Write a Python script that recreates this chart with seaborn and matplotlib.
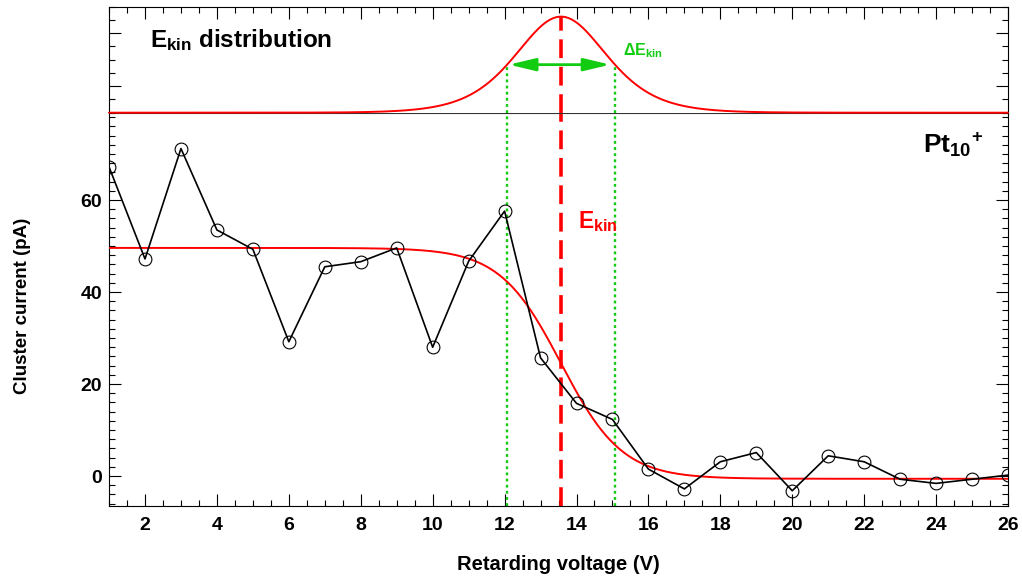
import numpy as np
import matplotlib
matplotlib.use("Agg")
import matplotlib.pyplot as plt
from matplotlib.ticker import MultipleLocator, FixedLocator, NullFormatter
import seaborn as sns

# measured cluster current vs retarding voltage
voltage = list(range(1, 27))
current = [67.2, 47.2, 71.2, 53.5, 49.3, 29.2, 45.5, 46.6, 49.6, 28.0,
           46.7, 57.6, 25.7, 15.8, 12.3, 1.5, -2.8, 3.1, 5.1, -3.2,
           4.4, 3.1, -0.7, -1.6, -0.7, 0.2]

# Fermi-type fit parameters
e_kin = 13.57      # V, centre of the fit
width = 0.851      # V
plateau = 50.2     # pA
offset = -0.6      # pA
peak_au = 7.25     # height of the distribution (arb. units)

xticks = [2, 4, 6, 8, 10, 12, 14, 16, 18, 20, 22, 24, 26]
yticks = [0, 20, 40, 60]

RED = "#ff0000"
GREEN = "#11cc11"

sns.set_style("ticks")
plt.rcParams["font.family"] = ["Liberation Sans", "DejaVu Sans"]
plt.rcParams["font.weight"] = "bold"
plt.rcParams["text.color"] = "black"
plt.rcParams["axes.labelcolor"] = "black"
plt.rcParams["xtick.color"] = "black"
plt.rcParams["ytick.color"] = "black"
plt.rcParams["mathtext.fontset"] = "custom"
plt.rcParams["mathtext.rm"] = "Liberation Sans:bold"
plt.rcParams["mathtext.bf"] = "Liberation Sans:bold"
plt.rcParams["mathtext.it"] = "Liberation Sans:bold"

fig = plt.figure(figsize=(10.22, 5.86), dpi=100)
ax = fig.add_axes([0.1067, 0.1365, 0.8796, 0.6712])
ax_top = fig.add_axes([0.1067, 0.8077, 0.8796, 0.1809], sharex=ax)

xfit = np.linspace(1, 26, 600)
fermi = offset + plateau / (1 + np.exp((xfit - e_kin) / width))
dist = peak_au / np.cosh((xfit - e_kin) / (2 * width)) ** 2
half = 2 * width * np.arccosh(np.sqrt(2))  # half of FWHM
lo, hi = e_kin - half, e_kin + half

dotted = (0, (1.2, 1.4))
dashed = (0, (5.2, 2.4))

# bottom panel
ax.axvline(lo, color=GREEN, lw=1.7, ls=dotted, zorder=1)
ax.axvline(hi, color=GREEN, lw=1.7, ls=dotted, zorder=1)
ax.axvline(e_kin, color=RED, lw=2.6, ls=dashed, zorder=2)
sns.lineplot(x=xfit, y=fermi, ax=ax, color=RED, lw=1.4, zorder=3)
sns.lineplot(x=voltage, y=current, ax=ax, color="black", lw=1.2,
             marker="o", markersize=9.2, markerfacecolor="none",
             markeredgecolor="black", markeredgewidth=0.8, zorder=4)

ax.set_xlim(1, 26)
ax.set_ylim(-6.52, 79.0)
ax.xaxis.set_major_locator(FixedLocator(xticks))
ax.xaxis.set_minor_locator(MultipleLocator(0.5))
ax.yaxis.set_major_locator(FixedLocator(yticks))
ax.yaxis.set_minor_locator(MultipleLocator(2))
ax.tick_params(which="both", direction="in", bottom=True, left=True,
               right=True, top=False, color="black", width=0.8)
ax.tick_params(which="major", length=8.5)
ax.tick_params(which="minor", length=4.3)
ax.tick_params(axis="x", labelsize=14, pad=8)
ax.tick_params(axis="y", labelsize=14, pad=5)
for lab in ax.get_xticklabels() + ax.get_yticklabels():
    lab.set_fontweight("bold")
ax.set_xlabel("Retarding voltage (V)", fontsize=14.5, fontweight="bold")
ax.set_ylabel("Cluster current (pA)", fontsize=13.5, fontweight="bold")
ax.xaxis.set_label_coords(0.5, -0.125)
ax.yaxis.set_label_coords(-0.087, 0.51)
for sp in ax.spines.values():
    sp.set_color("black")
    sp.set_linewidth(0.8)
ax.spines["top"].set_color("#333333")

ax.text(0.9055, 0.8975, r"$\mathbf{Pt_{10}}^{\mathbf{+}}$", transform=ax.transAxes,
        fontsize=19, va="baseline", ha="left")
ax.text(0.5217, 0.707, r"$\mathbf{E_{kin}}$", transform=ax.transAxes,
        fontsize=16.5, va="baseline", ha="left", color=RED)

# top panel: kinetic energy distribution
ax_top.vlines([lo, hi], 0, peak_au / 2, color=GREEN, lw=1.7, ls=dotted)
ax_top.vlines(e_kin, 0, peak_au, color=RED, lw=2.6, ls=dashed)
sns.lineplot(x=xfit, y=dist, ax=ax_top, color=RED, lw=1.4, zorder=5, clip_on=False)
ax_top.annotate("", xy=(lo + 0.05, peak_au / 2), xytext=(hi - 0.13, peak_au / 2),
                arrowprops=dict(arrowstyle="<|-|>,head_length=1.6,head_width=0.38",
                                color=GREEN, lw=2, mutation_scale=10,
                                shrinkA=0, shrinkB=0))
ax_top.set_ylim(0, 8)
ax_top.yaxis.set_major_locator(FixedLocator([2, 6]))
ax_top.yaxis.set_minor_locator(MultipleLocator(1))
ax_top.tick_params(which="both", direction="in", top=True, left=True,
                   right=True, bottom=False, labelbottom=False,
                   labelleft=False, color="black", width=0.8)
ax_top.tick_params(which="major", length=8.5)
ax_top.tick_params(which="minor", length=4.3)
ax_top.yaxis.set_major_formatter(NullFormatter())
ax_top.set_xlabel("")
ax_top.set_ylabel("")
for sp in ax_top.spines.values():
    sp.set_color("black")
    sp.set_linewidth(0.8)
ax_top.spines["bottom"].set_visible(False)

ax_top.text(0.0456, 0.62, r"$\mathbf{E_{kin}}$ distribution", transform=ax_top.transAxes,
            fontsize=17.5, fontweight="bold", va="baseline", ha="left")
ax_top.text(0.5717, 0.544, r"$\mathbf{\Delta E_{kin}}$", transform=ax_top.transAxes,
            fontsize=11.5, va="baseline", ha="left", color=GREEN)

fig.savefig("out.png", dpi=100)
